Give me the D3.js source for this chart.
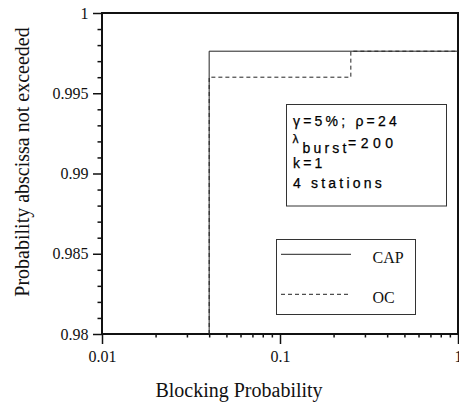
<!DOCTYPE html>
<html>
<head>
<meta charset="utf-8">
<script src="https://cdn.jsdelivr.net/npm/d3@7"></script>
<style>
  body { margin: 0; background: #fff; }
  svg { display: block; }
  .tick text { font-family: "Liberation Serif", "Times New Roman", serif; font-size: 16px; fill: #111; }
  .domain { display: none; }
  .tick line { stroke: #111; stroke-width: 1.5px; }
  .note { font-family: "Liberation Sans", Arial, sans-serif; font-size: 14px; fill: #000; stroke: #000; stroke-width: 0.25px; letter-spacing: 3.2px; }
</style>
</head>
<body>
<div class="chart"></div>
<script>
// series: step curves of the distribution
const capX = [0.04, 0.04, 1];
const capY = [0.98, 0.99762, 0.99762];
const ocX = [0.04, 0.04, 0.25, 0.25, 1];
const ocY = [0.98, 0.996, 0.996, 0.99762, 0.99762];

// axes
const xTicks = [0.01, 0.1, 1];
const xTickLabels = ["0.01", "0.1", "1"];
const xMinor = [0.02, 0.03, 0.04, 0.05, 0.06, 0.07, 0.08, 0.09, 0.2, 0.3, 0.4, 0.5, 0.6, 0.7, 0.8, 0.9];
const yTicks = [0.98, 0.985, 0.99, 0.995, 1];
const yTickLabels = ["0.98", "0.985", "0.99", "0.995", "1"];
const yMinor = [0.981, 0.982, 0.983, 0.984, 0.986, 0.987, 0.988, 0.989, 0.991, 0.992, 0.993, 0.994, 0.996, 0.997, 0.998, 0.999];

const legendNames = ["CAP", "OC"];

const width = 459, height = 405;
const plotLeft = 102, plotRight = 458, plotTop = 13, plotBottom = 334;

const svg = d3.select(".chart")
  .append("svg")
  .attr("width", width)
  .attr("height", height);

const x = d3.scaleLog().domain([0.01, 1]).range([plotLeft, plotRight]);
const y = d3.scaleLinear().domain([0.98, 1]).range([plotBottom, plotTop]);

// minor ticks first (no labels)
svg.append("g")
  .attr("transform", `translate(0,${plotBottom})`)
  .call(d3.axisBottom(x).tickValues(xMinor).tickSize(3.5).tickSizeOuter(0).tickFormat(""));

svg.append("g")
  .attr("transform", `translate(${plotLeft},0)`)
  .call(d3.axisLeft(y).tickValues(yMinor).tickSize(4.5).tickSizeOuter(0).tickFormat(""));

// major ticks
svg.append("g")
  .attr("transform", `translate(0,${plotBottom})`)
  .call(d3.axisBottom(x).tickValues(xTicks).tickSize(10).tickPadding(6.5).tickSizeOuter(0)
    .tickFormat((d, i) => xTickLabels[i]));

svg.append("g")
  .attr("transform", `translate(${plotLeft},0)`)
  .call(d3.axisLeft(y).tickValues(yTicks).tickSize(9).tickPadding(4.5).tickSizeOuter(0)
    .tickFormat((d, i) => yTickLabels[i]));

// frame
svg.append("rect")
  .attr("x", plotLeft)
  .attr("y", plotTop)
  .attr("width", plotRight - plotLeft)
  .attr("height", plotBottom - plotTop)
  .attr("fill", "none")
  .attr("stroke", "#111")
  .attr("stroke-width", 2);

const line = d3.line().x(d => x(d[0])).y(d => y(d[1]));

// OC dashed underneath, CAP solid on top
svg.append("path")
  .attr("d", line(d3.zip(ocX, ocY)))
  .attr("fill", "none")
  .attr("stroke", "#222")
  .attr("stroke-width", 1)
  .attr("stroke-dasharray", "4,3");

svg.append("path")
  .attr("d", line(d3.zip(capX, capY)))
  .attr("fill", "none")
  .attr("stroke", "#222")
  .attr("stroke-width", 1);

// parameter box
svg.append("rect")
  .attr("x", 286.5).attr("y", 104.5)
  .attr("width", 160).attr("height", 101.5)
  .attr("fill", "#fff")
  .attr("stroke", "#333")
  .attr("stroke-width", 1);

svg.append("text").attr("class", "note").attr("x", 293).attr("y", 126)
  .text("γ=5%;  ρ=24");
svg.append("text").attr("class", "note").attr("x", 292.5).attr("y", 142.5)
  .style("font-size", "12px").style("letter-spacing", "0px")
  .text("λ");
svg.append("text").attr("class", "note").attr("x", 302.5).attr("y", 153.3)
  .text("burst");
svg.append("text").attr("class", "note").attr("x", 348).attr("y", 147.5)
  .style("letter-spacing", "4.5px")
  .text("=200");
svg.append("text").attr("class", "note").attr("x", 293).attr("y", 167.5)
  .text("k=1");
svg.append("text").attr("class", "note").attr("x", 293).attr("y", 188)
  .text("4 stations");

// legend
svg.append("rect")
  .attr("x", 276.5).attr("y", 239.5)
  .attr("width", 139).attr("height", 75)
  .attr("fill", "#fff")
  .attr("stroke", "#333")
  .attr("stroke-width", 1);

const legend = svg.append("g");
legendNames.forEach((name, i) => {
  const ly = 254.3 + i * 40;
  legend.append("line")
    .attr("x1", 281).attr("x2", 351)
    .attr("y1", ly).attr("y2", ly)
    .attr("stroke", "#222")
    .attr("stroke-width", 1)
    .attr("stroke-dasharray", i === 1 ? "4,3" : null);
  legend.append("text")
    .attr("x", 372.5).attr("y", ly + 9)
    .attr("font-family", "Liberation Serif, Times New Roman, serif")
    .attr("font-size", 16)
    .attr("fill", "#111")
    .text(name);
});

// axis titles
svg.append("text")
  .attr("x", 239).attr("y", 396.5)
  .attr("text-anchor", "middle")
  .attr("font-family", "Liberation Serif, Times New Roman, serif")
  .attr("font-size", 20)
  .attr("fill", "#111")
  .text("Blocking Probability");

svg.append("text")
  .attr("transform", "translate(29,162) rotate(-90)")
  .attr("text-anchor", "middle")
  .attr("font-family", "Liberation Serif, Times New Roman, serif")
  .attr("font-size", 20)
  .attr("fill", "#111")
  .text("Probability abscissa not exceeded");
</script>
</body>
</html>
